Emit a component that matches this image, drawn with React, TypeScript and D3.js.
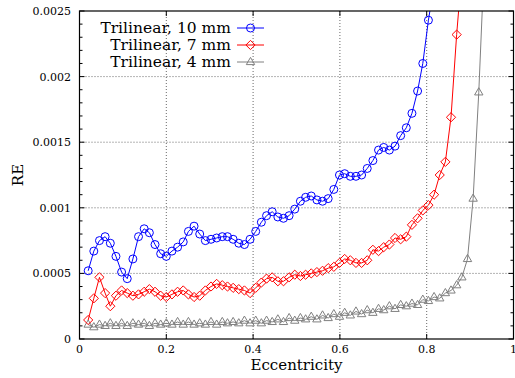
import React, { useEffect, useRef } from 'react';
import * as d3 from 'd3';

// eccentricity samples (shared by all three runs)
const ecc = [
  0.020, 0.033, 0.046, 0.059, 0.071, 0.084, 0.097, 0.110, 0.123, 0.136,
  0.149, 0.161, 0.174, 0.187, 0.200, 0.213, 0.226, 0.239, 0.251, 0.264,
  0.277, 0.290, 0.303, 0.316, 0.329, 0.341, 0.354, 0.367, 0.380, 0.393,
  0.406, 0.419, 0.431, 0.444, 0.457, 0.470, 0.483, 0.496, 0.509, 0.521,
  0.534, 0.547, 0.560, 0.573, 0.586, 0.599, 0.611, 0.624, 0.637, 0.650,
  0.663, 0.676, 0.689, 0.701, 0.714, 0.727, 0.740, 0.753, 0.766, 0.779,
  0.791, 0.804, 0.817, 0.830, 0.843, 0.856, 0.869, 0.881, 0.894, 0.907,
  0.920, 0.933
];

const re10mm = [
  0.00052, 0.00067, 0.00075, 0.00078, 0.00073, 0.00063, 0.00051, 0.00046, 0.00061, 0.00078,
  0.00084, 0.00081, 0.00072, 0.00065, 0.00063, 0.00067, 0.00070, 0.00074, 0.00082, 0.00086,
  0.00080, 0.00075, 0.00076, 0.00077, 0.00078, 0.00078, 0.00076, 0.00073, 0.00072, 0.00076,
  0.00082, 0.00089, 0.00094, 0.00097, 0.00093, 0.00092, 0.00094, 0.00099, 0.00105, 0.00108,
  0.00109, 0.00106, 0.00105, 0.00107, 0.00114, 0.00125, 0.00126, 0.00124, 0.00124, 0.00125,
  0.00130, 0.00136, 0.00144, 0.00146, 0.00144, 0.00147, 0.00155, 0.00161, 0.00172, 0.00189,
  0.00210, 0.00243, 0.00270
];

const re7mm = [
  0.000145, 0.00031, 0.00047, 0.00035, 0.00025, 0.00033, 0.00037, 0.00035, 0.00033, 0.00034,
  0.00036, 0.00038, 0.00036, 0.00033, 0.00032, 0.00034, 0.00036, 0.00037, 0.00034, 0.00032,
  0.00033, 0.00037, 0.00040, 0.00042, 0.00041, 0.00040, 0.00039, 0.00038, 0.00037, 0.00035,
  0.00039, 0.00043, 0.00046, 0.00047, 0.00044, 0.00044, 0.00047, 0.00049, 0.00048, 0.00049,
  0.00050, 0.00051, 0.00052, 0.00054, 0.00055, 0.00058, 0.00061, 0.00060, 0.00058, 0.00058,
  0.00060, 0.00068, 0.00067, 0.00070, 0.00072, 0.00077, 0.00076, 0.00078, 0.00087, 0.00092,
  0.00098, 0.00102, 0.00110, 0.00125, 0.00135, 0.00169, 0.00232, 0.00280
];

const re4mm = [
  0.00011, 0.00009, 0.00011, 0.00010, 0.00012, 0.00010, 0.00012, 0.00010, 0.00012, 0.00011,
  0.00012, 0.00010, 0.00012, 0.00011, 0.00012, 0.00011, 0.00013, 0.00011, 0.00013, 0.00011,
  0.00012, 0.00011, 0.00013, 0.00011, 0.00013, 0.00012, 0.00013, 0.00012, 0.00014, 0.00012,
  0.00014, 0.00012, 0.00014, 0.00013, 0.00015, 0.00013, 0.00016, 0.00014, 0.00016, 0.00015,
  0.00017, 0.00015, 0.00018, 0.00016, 0.00019, 0.00017, 0.00020, 0.00018, 0.00021, 0.00019,
  0.00022, 0.00020, 0.00023, 0.00022, 0.00025, 0.00023, 0.00026, 0.00025, 0.00027, 0.00026,
  0.00030, 0.00029, 0.00032, 0.00031, 0.00035, 0.00037, 0.00041, 0.00047, 0.00061, 0.00107,
  0.00188, 0.00290
];

const seriesNames = ['Trilinear, 10 mm', 'Trilinear, 7 mm', 'Trilinear, 4 mm'];
const seriesValues = [re10mm, re7mm, re4mm];
const seriesColors = ['#0000ff', '#ff0000', '#808080'];
const seriesMarkers = ['circle', 'diamond', 'triangle'];

const xTicks = [0, 0.2, 0.4, 0.6, 0.8, 1];
const yTicks = [0, 0.0005, 0.001, 0.0015, 0.002, 0.0025];

export default function App() {
  const svgRef = useRef<SVGSVGElement>(null);

  useEffect(() => {
    if (!svgRef.current) return;
    const width = 515;
    const height = 378;
    const left = 79.5, right = 513.5, top = 11, bottom = 339;
    const font = '"DejaVu Serif", serif';

    const svg = d3.select(svgRef.current);
    svg.selectAll('*').remove();
    svg.attr('width', width).attr('height', height);

    svg.append('rect').attr('width', width).attr('height', height).attr('fill', '#fff');

    const x = d3.scaleLinear().domain([0, 1]).range([left, right]);
    const y = d3.scaleLinear().domain([0, 0.0025]).range([bottom, top]);

    // dotted grid
    const grid = svg.append('g')
      .attr('stroke', '#000').attr('stroke-width', 0.6).attr('stroke-dasharray', '1,2');
    xTicks.slice(1, -1).forEach(t => {
      grid.append('line').attr('x1', x(t)).attr('x2', x(t)).attr('y1', bottom).attr('y2', top);
    });
    yTicks.slice(1, -1).forEach(t => {
      grid.append('line').attr('x1', left).attr('x2', right).attr('y1', y(t)).attr('y2', y(t));
    });

    // ticks, all inward on four sides
    const ticks = svg.append('g').attr('stroke', '#000').attr('stroke-width', 1);
    xTicks.forEach(t => {
      ticks.append('line').attr('x1', x(t)).attr('x2', x(t)).attr('y1', bottom).attr('y2', bottom - 5);
      ticks.append('line').attr('x1', x(t)).attr('x2', x(t)).attr('y1', top).attr('y2', top + 5);
    });
    d3.range(0, 26).forEach(i => {
      const v = i * 0.0001;
      const len = i % 5 === 0 ? 5 : 3;
      ticks.append('line').attr('x1', left).attr('x2', left + len).attr('y1', y(v)).attr('y2', y(v));
      ticks.append('line').attr('x1', right).attr('x2', right - len).attr('y1', y(v)).attr('y2', y(v));
    });

    // tick labels
    svg.append('g').selectAll('text').data(xTicks).join('text')
      .attr('x', d => x(d)).attr('y', 353)
      .attr('text-anchor', 'middle')
      .attr('font-family', font).attr('font-size', 11)
      .text(d => String(d));
    svg.append('g').selectAll('text').data(yTicks).join('text')
      .attr('x', 71).attr('y', d => y(d) + 4)
      .attr('text-anchor', 'end')
      .attr('font-family', font).attr('font-size', 11)
      .text(d => String(d));

    // axis titles
    svg.append('text')
      .attr('x', (left + right) / 2).attr('y', 370)
      .attr('text-anchor', 'middle')
      .attr('font-family', font).attr('font-size', 15)
      .text('Eccentricity');
    svg.append('text')
      .attr('transform', 'translate(23,175) rotate(-90)')
      .attr('text-anchor', 'middle')
      .attr('font-family', font).attr('font-size', 15)
      .text('RE');

    const markerPath = (kind: string) => {
      if (kind === 'diamond') return 'M0,-4.6L4.6,0L0,4.6L-4.6,0Z';
      if (kind === 'triangle') return 'M0,-4.6L4.2,2.6L-4.2,2.6Z';
      return d3.symbol().type(d3.symbolCircle).size(Math.PI * 4 * 4)() as string;
    };

    svg.append('clipPath').attr('id', 'plot-clip')
      .append('rect').attr('x', left).attr('y', top).attr('width', right - left).attr('height', bottom - top);

    const plot = svg.append('g').attr('clip-path', 'url(#plot-clip)');
    const line = d3.line<[number, number]>().x(d => x(d[0])).y(d => y(d[1]));

    // draw 4 mm first so 10 mm sits on top
    [2, 1, 0].forEach(s => {
      const pts: [number, number][] = seriesValues[s].map((v, i) => [ecc[i], v]);
      plot.append('path')
        .attr('d', line(pts))
        .attr('fill', 'none')
        .attr('stroke', seriesColors[s])
        .attr('stroke-width', 1);
      plot.append('g').selectAll('path').data(pts).join('path')
        .attr('transform', d => `translate(${x(d[0])},${y(d[1])})`)
        .attr('d', markerPath(seriesMarkers[s]))
        .attr('fill', 'none')
        .attr('stroke', seriesColors[s])
        .attr('stroke-width', 1);
    });

    // legend
    seriesNames.forEach((name, s) => {
      const ly = 28 + s * 17;
      svg.append('text')
        .attr('x', 231).attr('y', ly + 5)
        .attr('text-anchor', 'end')
        .attr('font-family', font).attr('font-size', 15.5)
        .text(name);
      svg.append('line')
        .attr('x1', 237).attr('x2', 264).attr('y1', ly).attr('y2', ly)
        .attr('stroke', seriesColors[s]).attr('stroke-width', 1);
      svg.append('path')
        .attr('transform', `translate(250.5,${ly})`)
        .attr('d', markerPath(seriesMarkers[s]))
        .attr('fill', 'none')
        .attr('stroke', seriesColors[s]);
    });

    // frame
    svg.append('rect')
      .attr('x', left).attr('y', top).attr('width', right - left).attr('height', bottom - top)
      .attr('fill', 'none').attr('stroke', '#000').attr('stroke-width', 1.2);
  }, []);

  return (
    <div style={{ position: 'absolute', left: 0, top: 0 }}>
      <svg ref={svgRef} style={{ display: 'block' }}></svg>
    </div>
  );
}
